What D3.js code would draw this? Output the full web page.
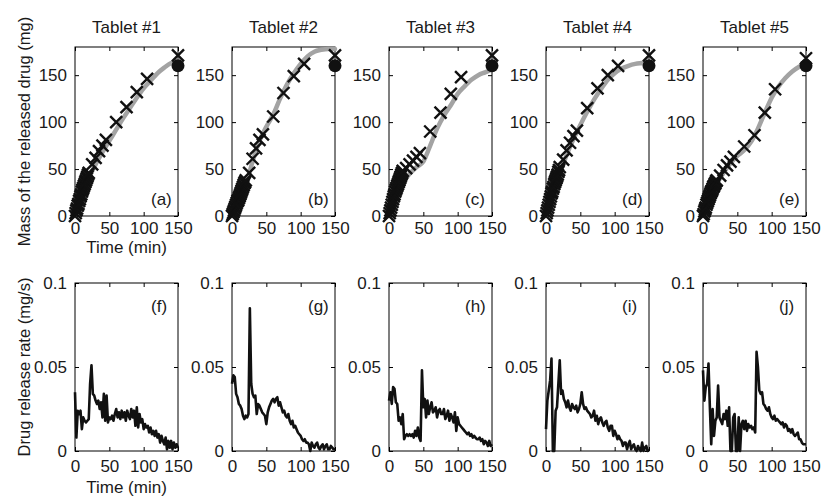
<!DOCTYPE html>
<html>
<head>
<meta charset="utf-8">
<script src="https://cdn.jsdelivr.net/npm/d3@7"></script>
<style>
  html, body { margin: 0; padding: 0; background: #fff; }
  svg text { font-family: "Liberation Sans", Arial, Helvetica, sans-serif; fill: #1a1a1a; }
</style>
</head>
<body>
<svg id="chart" width="823" height="496"></svg>
<script>
// ---------------- DATA ----------------
const tabletTitles = ["Tablet #1", "Tablet #2", "Tablet #3", "Tablet #4", "Tablet #5"];
const topLabels = ["(a)", "(b)", "(c)", "(d)", "(e)"];
const bottomLabels = ["(f)", "(g)", "(h)", "(i)", "(j)"];

const massTicks = [0, 50, 100, 150];
const rateTicks = [0, 0.05, 0.1];
const rateTickLabels = ["0", "0.05", "0.1"];
const timeTicks = [0, 50, 100, 150];

// measured released mass (X markers)
const massTimes = [0,1,2,3,4,5,6,7,8,9,10,11,12,13,14,15,16,17,18,19,20,25,30,35,40,45,60,75,90,105,150];
const mass1 = [0,3,6,8,11,13,16,18,21,23,26,28,30,32,34,36,38,40,42,44,46,55,62,69,75,81,100,116,132,146,171];
const mass2 = [0,2,4,6,8,10,12,14,16,17,19,21,23,25,27,29,31,33,35,36,38,46,61,72,81,87,106,131,149,162,171];
const mass3 = [0,3,6,9,12,15,18,21,23,26,28,30,32,34,36,38,40,42,44,46,48,51,55,59,63,67,90,110,130,148,171];
const mass4 = [0,3,6,9,12,15,18,21,24,26,29,31,34,36,38,40,42,44,47,49,52,60,70,78,85,91,115,136,150,160,171];
const mass5 = [0,2,5,7,9,12,14,16,18,20,22,24,26,27,29,31,32,34,35,37,38,43,49,54,58,63,74,86,110,135,168];

// model curves (grey)
const fitTimes = [0,10,20,30,40,50,60,70,80,90,100,110,120,130,140,150];
const fit1 = [0,20,40,55,68,80,92,104,115,126,136,144,152,158,163,165];
const fit2 = [0,15,33,58,80,95,108,125,140,152,162,170,175,177,178,178];
const fit3 = [0,20,35,45,52,58,75,93,107,118,130,138,145,150,153,156];
const fit4 = [0,22,45,65,82,97,111,124,135,145,152,157,160,162,163,164];
const fit5 = [0,18,34,46,56,64,70,79,93,110,126,138,147,154,159,163];

// final mass (filled dot)
const finalTime = 150;
const finalMass = [160, 160, 160, 160, 160];

// release rate (mg/s)
const rateTimes = [0,2,4,6,8,10,12,14,16,18,20,22,24,26,28,30,32,34,36,38,40,42,44,46,48,50,52,54,56,58,60,62,64,66,68,70,72,74,76,78,80,82,84,86,88,90,92,94,96,98,100,102,104,106,108,110,112,114,116,118,120,122,124,126,128,130,132,134,136,138,140,142,144,146,148,150];
const rate1 = [0.035,0.008,0.024,0.022,0.024,0.013,0.020,0.018,0.017,0.018,0.019,0.040,0.051,0.034,0.033,0.030,0.028,0.030,0.025,0.029,0.020,0.034,0.018,0.033,0.017,0.020,0.019,0.021,0.018,0.022,0.025,0.020,0.023,0.019,0.024,0.020,0.023,0.018,0.024,0.021,0.019,0.025,0.020,0.024,0.015,0.026,0.014,0.022,0.017,0.019,0.013,0.016,0.014,0.015,0.011,0.014,0.010,0.012,0.009,0.012,0.008,0.010,0.005,0.009,0.006,0.004,0.008,0.001,0.006,0.002,0.006,0.001,0.005,0.002,0.004,0.002];
const rate2 = [0.040,0.045,0.044,0.034,0.032,0.028,0.027,0.025,0.021,0.019,0.021,0.020,0.022,0.085,0.040,0.034,0.032,0.033,0.022,0.028,0.027,0.025,0.023,0.022,0.021,0.016,0.023,0.026,0.028,0.030,0.031,0.029,0.031,0.032,0.027,0.029,0.026,0.023,0.024,0.021,0.020,0.022,0.018,0.016,0.018,0.014,0.015,0.013,0.011,0.010,0.009,0.007,0.006,0.007,0.005,0.005,0.004,0.000,0.005,0.003,0.002,0.004,0.005,0.002,0.001,0.003,0.004,0.001,0.003,0.004,0.001,0.001,0.003,0.002,0.001,0.001];
const rate3 = [0.030,0.035,0.028,0.038,0.037,0.029,0.028,0.018,0.020,0.016,0.022,0.007,0.009,0.010,0.009,0.010,0.009,0.010,0.008,0.012,0.009,0.014,0.008,0.006,0.048,0.026,0.031,0.020,0.030,0.022,0.026,0.029,0.023,0.024,0.026,0.020,0.024,0.025,0.022,0.022,0.025,0.019,0.021,0.024,0.018,0.022,0.020,0.017,0.023,0.012,0.020,0.016,0.015,0.014,0.013,0.012,0.011,0.010,0.011,0.009,0.010,0.008,0.009,0.008,0.007,0.007,0.008,0.006,0.007,0.004,0.006,0.005,0.003,0.006,0.003,0.004];
const rate4 = [0.013,0.030,0.036,0.042,0.055,0.000,0.000,0.024,0.026,0.040,0.054,0.034,0.036,0.031,0.029,0.026,0.030,0.026,0.024,0.028,0.026,0.025,0.027,0.023,0.025,0.028,0.035,0.028,0.025,0.026,0.024,0.023,0.022,0.020,0.021,0.024,0.018,0.021,0.016,0.019,0.020,0.017,0.015,0.017,0.018,0.014,0.012,0.015,0.015,0.009,0.012,0.010,0.007,0.009,0.007,0.006,0.003,0.005,0.005,0.001,0.004,0.006,0.001,0.003,0.004,0.001,0.000,0.003,0.001,0.000,0.005,0.000,0.002,0.003,0.000,0.001];
const rate5 = [0.048,0.030,0.038,0.040,0.052,0.026,0.004,0.025,0.009,0.018,0.020,0.039,0.020,0.018,0.016,0.022,0.019,0.024,0.015,0.026,0.000,0.000,0.020,0.022,0.000,0.000,0.020,0.000,0.016,0.018,0.013,0.018,0.012,0.016,0.014,0.015,0.013,0.014,0.011,0.059,0.050,0.036,0.034,0.035,0.028,0.027,0.025,0.024,0.026,0.022,0.020,0.019,0.021,0.018,0.019,0.018,0.017,0.016,0.017,0.014,0.016,0.015,0.012,0.013,0.011,0.013,0.010,0.009,0.010,0.011,0.007,0.007,0.005,0.004,0.004,0.004];

const massSeries = [mass1, mass2, mass3, mass4, mass5];
const fitSeries = [fit1, fit2, fit3, fit4, fit5];
const rateSeries = [rate1, rate2, rate3, rate4, rate5];

// ---------------- LAYOUT ----------------
const svg = d3.select("#chart");
const panelW = 103, firstLeft = 75, stepX = 157;
const topRow = { top: 47, bottom: 216, pad: 6 };
const botRow = { top: 283, bottom: 451, pad: 9 };
const FS = 17;

function boxAxes(g, x, y, yTicks, yFmt, pad) {
  const [x0, x1] = x.range();
  const [y0, y1] = y.range(); // y0 bottom, y1 top
  g.append("g").attr("transform", `translate(0,${y0})`)
    .call(d3.axisBottom(x).tickValues(timeTicks).tickSizeInner(-4).tickSizeOuter(0).tickPadding(pad).tickFormat(d3.format("d")))
    .call(a => a.select(".domain").remove());
  g.append("g").attr("transform", `translate(0,${y1})`)
    .call(d3.axisTop(x).tickValues(timeTicks).tickSizeInner(-4).tickSizeOuter(0).tickFormat(""))
    .call(a => a.select(".domain").remove());
  g.append("g").attr("transform", `translate(${x0},0)`)
    .call(d3.axisLeft(y).tickValues(yTicks).tickSizeInner(-4).tickSizeOuter(0).tickPadding(8).tickFormat(yFmt))
    .call(a => a.select(".domain").remove());
  g.append("g").attr("transform", `translate(${x1},0)`)
    .call(d3.axisRight(y).tickValues(yTicks).tickSizeInner(-4).tickSizeOuter(0).tickFormat(""))
    .call(a => a.select(".domain").remove());
  g.selectAll(".tick line").attr("stroke", "#000").attr("stroke-width", 1);
  g.selectAll(".tick text").attr("font-size", FS).attr("fill", "#1a1a1a")
    .attr("font-family", '"Liberation Sans", Arial, Helvetica, sans-serif');
  g.append("rect").attr("x", x0).attr("y", y1).attr("width", x1 - x0).attr("height", y0 - y1)
    .attr("fill", "none").attr("stroke", "#000").attr("stroke-width", 1);
}

const xMark = "M-6,-6L6,6M-6,6L6,-6";

for (let i = 0; i < 5; i++) {
  const left = firstLeft + i * stepX;
  const x = d3.scaleLinear().domain([0, 150]).range([left, left + panelW]);

  // ---- top panel: mass ----
  const yM = d3.scaleLinear().domain([0, 180]).range([topRow.bottom, topRow.top]);
  const gT = svg.append("g");
  boxAxes(gT, x, yM, massTicks, d3.format("d"), topRow.pad);

  const fitLine = d3.line().x((d, k) => x(fitTimes[k])).y(d => yM(d)).curve(d3.curveMonotoneX);
  gT.append("path").datum(fitSeries[i]).attr("d", fitLine)
    .attr("fill", "none").attr("stroke", "#a3a3a3").attr("stroke-width", 4.5)
    .attr("stroke-linecap", "round").attr("stroke-linejoin", "round");

  gT.append("circle").attr("cx", x(finalTime)).attr("cy", yM(finalMass[i])).attr("r", 6.5).attr("fill", "#111");

  gT.selectAll("path.xm").data(massSeries[i]).enter().append("path").attr("class", "xm")
    .attr("d", xMark)
    .attr("transform", (d, k) => `translate(${x(massTimes[k])},${yM(d)})`)
    .attr("stroke", "#111").attr("stroke-width", 2.4).attr("fill", "none");

  gT.append("text").attr("x", left + panelW / 2).attr("y", 33).attr("text-anchor", "middle")
    .attr("font-size", FS).text(tabletTitles[i]);
  gT.append("text").attr("x", left + 76).attr("y", 205).attr("font-size", FS).text(topLabels[i]);

  // ---- bottom panel: rate ----
  const yR = d3.scaleLinear().domain([0, 0.1]).range([botRow.bottom, botRow.top]);
  const gB = svg.append("g");
  boxAxes(gB, x, yR, rateTicks, d => rateTickLabels[rateTicks.indexOf(d)], botRow.pad);

  const rateLine = d3.line().x((d, k) => x(rateTimes[k])).y(d => yR(d));
  gB.append("path").datum(rateSeries[i]).attr("d", rateLine)
    .attr("fill", "none").attr("stroke", "#111").attr("stroke-width", 2.6)
    .attr("stroke-linejoin", "round");

  gB.append("text").attr("x", left + 76).attr("y", 312).attr("font-size", FS).text(bottomLabels[i]);
}

// axis titles
svg.append("text").attr("x", firstLeft + panelW / 2).attr("y", 253).attr("text-anchor", "middle")
  .attr("font-size", FS).text("Time (min)");
svg.append("text").attr("x", firstLeft + panelW / 2).attr("y", 493).attr("text-anchor", "middle")
  .attr("font-size", FS).text("Time (min)");
svg.append("text").attr("transform", `translate(30,${(topRow.top + topRow.bottom) / 2}) rotate(-90)`)
  .attr("text-anchor", "middle").attr("font-size", 16.5).text("Mass of the released drug (mg)");
svg.append("text").attr("transform", `translate(30,${(botRow.top + botRow.bottom) / 2}) rotate(-90)`)
  .attr("text-anchor", "middle").attr("font-size", 16.5).text("Drug release rate (mg/s)");
</script>
</body>
</html>
